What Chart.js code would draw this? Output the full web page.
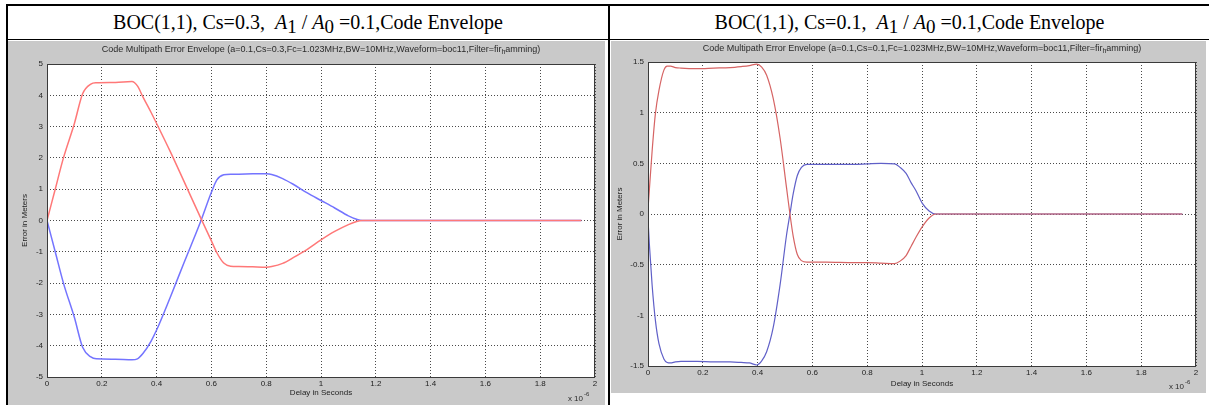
<!DOCTYPE html>
<html><head><meta charset="utf-8">
<script src="https://cdn.jsdelivr.net/npm/chart.js@4.4.1/dist/chart.umd.min.js"></script>
<style>
html,body{margin:0;padding:0;background:#fff;width:1209px;height:405px;overflow:hidden;position:relative;}
.line{position:absolute;background:#000;}
.hdr{position:absolute;top:6px;height:33px;line-height:33px;text-align:center;font-family:"Liberation Serif","Times New Roman",serif;font-size:20px;color:#000;white-space:pre;}
.hdr i{font-style:italic;}
.sub{position:relative;top:4px;font-size:19px;}
canvas{position:absolute;background:#c9c9c9;}
</style></head><body>
<div class="line" style="left:6px;top:4px;width:1203px;height:2px"></div>
<div class="line" style="left:6px;top:39px;width:1203px;height:1px"></div>
<div class="line" style="left:6px;top:4px;width:2px;height:401px"></div>
<div class="line" style="left:608px;top:4px;width:2px;height:401px"></div>
<div class="hdr" style="left:8px;width:600px">BOC(1,1), Cs=0.3,  <i>A</i><span class="sub">1</span> / <i>A</i><span class="sub">0</span> =0.1,Code Envelope</div>
<div class="hdr" style="left:610px;width:599px">BOC(1,1), Cs=0.1,  <i>A</i><span class="sub">1</span> / <i>A</i><span class="sub">0</span> =0.1,Code Envelope</div>
<canvas id="c1" width="597" height="364" style="left:8px;top:41px"></canvas>
<canvas id="c2" width="595" height="352" style="left:611px;top:41px"></canvas>
<script>
// ---------- data ----------
const xTickValues = [0, 0.2, 0.4, 0.6, 0.8, 1, 1.2, 1.4, 1.6, 1.8, 2];
const xTickLabels = ['0', '0.2', '0.4', '0.6', '0.8', '1', '1.2', '1.4', '1.6', '1.8', '2'];
const leftYTickValues = [-5, -4, -3, -2, -1, 0, 1, 2, 3, 4, 5];
const leftYTickLabels = ['-5', '-4', '-3', '-2', '-1', '0', '1', '2', '3', '4', '5'];
const rightYTickValues = [-1.5, -1, -0.5, 0, 0.5, 1, 1.5];
const rightYTickLabels = ['-1.5', '-1', '-0.5', '0', '0.5', '1', '1.5'];

// Cs = 0.3 (delay in microseconds)
const leftDelay = [0, 0.03, 0.06, 0.1, 0.13, 0.16, 0.18, 0.25, 0.31, 0.33, 0.35, 0.38, 0.4, 0.45, 0.5, 0.56, 0.6, 0.62, 0.645, 0.67, 0.7, 0.75, 0.8, 0.82, 0.86, 0.9, 0.95, 1.0, 1.05, 1.1, 1.13, 1.15, 1.2, 1.4, 1.6, 1.8, 1.95];
const leftUpper = [0, 1.0, 2.0, 3.1, 4.05, 4.36, 4.4, 4.41, 4.44, 4.3, 3.95, 3.45, 3.1, 2.2, 1.25, 0.1, -0.65, -1.03, -1.36, -1.46, -1.47, -1.48, -1.49, -1.47, -1.37, -1.18, -0.92, -0.62, -0.35, -0.13, -0.03, 0, 0, 0, 0, 0, 0];
const leftLower = [0, -1.0, -2.0, -3.1, -4.05, -4.36, -4.42, -4.43, -4.45, -4.42, -4.25, -3.85, -3.5, -2.45, -1.35, -0.05, 0.9, 1.3, 1.46, 1.48, 1.48, 1.49, 1.49, 1.47, 1.34, 1.15, 0.88, 0.64, 0.4, 0.15, 0.04, 0, 0, 0, 0, 0, 0];

// Cs = 0.1
const rightDelay = [0, 0.005, 0.015, 0.027, 0.04, 0.058, 0.07, 0.082, 0.1, 0.12, 0.18, 0.24, 0.3, 0.34, 0.37, 0.397, 0.415, 0.433, 0.457, 0.482, 0.506, 0.518, 0.53, 0.545, 0.56, 0.58, 0.65, 0.75, 0.8, 0.85, 0.9, 0.92, 0.942, 0.96, 0.978, 1.0, 1.026, 1.05, 1.2, 1.4, 1.6, 1.8, 1.95];
const rightUpper = [0.05, 0.24, 0.62, 0.99, 1.22, 1.42, 1.46, 1.46, 1.445, 1.44, 1.435, 1.44, 1.445, 1.455, 1.465, 1.48, 1.45, 1.37, 1.14, 0.75, 0.25, 0, -0.22, -0.4, -0.46, -0.475, -0.475, -0.48, -0.48, -0.485, -0.49, -0.465, -0.41, -0.32, -0.23, -0.13, -0.04, 0, 0, 0, 0, 0, 0];
const rightLower = [-0.05, -0.3, -0.7, -1.05, -1.28, -1.43, -1.465, -1.47, -1.46, -1.455, -1.455, -1.46, -1.46, -1.465, -1.47, -1.49, -1.45, -1.36, -1.12, -0.7, -0.2, 0, 0.2, 0.38, 0.46, 0.49, 0.49, 0.49, 0.495, 0.5, 0.495, 0.46, 0.4, 0.31, 0.23, 0.11, 0.03, 0, 0, 0, 0, 0, 0];

const leftTitle = ['Code Multipath Error Envelope (a=0.1,Cs=0.3,Fc=1.023MHz,BW=10MHz,Waveform=boc11,Filter=fir', 'h', 'amming)'];
const rightTitle = ['Code Multipath Error Envelope (a=0.1,Cs=0.1,Fc=1.023MHz,BW=10MHz,Waveform=boc11,Filter=fir', 'h', 'amming)'];

// ---------- drawing ----------
const FONT = '"Liberation Sans", Arial, Helvetica, sans-serif';

const matlabFrame = {
  id: 'matlabFrame',
  beforeDraw(chart) {
    const {ctx, chartArea: a} = chart;
    ctx.save();
    ctx.fillStyle = '#ffffff';
    ctx.fillRect(a.left, a.top, a.right - a.left, a.bottom - a.top);
    ctx.restore();
  },
  afterDraw(chart, args, o) {
    const {ctx, chartArea: a} = chart;
    ctx.save();
    ctx.strokeStyle = '#3a3a3a';
    ctx.lineWidth = 1;
    ctx.strokeRect(Math.round(a.left) + 0.5, Math.round(a.top) + 0.5, Math.round(a.right - a.left) - 1, Math.round(a.bottom - a.top));
    // title with subscript
    const parts = o.title;
    ctx.fillStyle = '#2a2a2a';
    ctx.textBaseline = 'alphabetic';
    ctx.textAlign = 'left';
    const big = '9px ' + FONT, small = '7px ' + FONT;
    ctx.font = big; const w0 = ctx.measureText(parts[0]).width;
    ctx.font = small; const w1 = ctx.measureText(parts[1]).width;
    ctx.font = big; const w2 = ctx.measureText(parts[2]).width;
    let x = (a.left + a.right) / 2 - (w0 + w1 + w2) / 2;
    const y = o.titleY;
    ctx.font = big; ctx.fillText(parts[0], x, y); x += w0;
    ctx.font = small; ctx.fillText(parts[1], x, y + 2); x += w1;
    ctx.font = big; ctx.fillText(parts[2], x, y);
    // exponent label
    ctx.font = '8px ' + FONT;
    ctx.textAlign = 'right';
    ctx.fillText('x 10', a.right - 12, a.bottom + o.expDy);
    ctx.font = '6px ' + FONT;
    ctx.textAlign = 'left';
    ctx.fillText('-6', a.right - 11, a.bottom + o.expDy - 5);
    ctx.restore();
  }
};

function makeChart(id, g) {
  const pts = (xs, ys) => xs.map((d, i) => ({x: d, y: ys[i]}));
  return new Chart(document.getElementById(id), {
    type: 'line',
    data: {
      datasets: [
        {data: pts(g.delay, g.upper), borderColor: g.red, borderWidth: g.lw, pointRadius: 0, cubicInterpolationMode: 'monotone', fill: false},
        {data: pts(g.delay, g.lower), borderColor: g.blue, borderWidth: g.lw, pointRadius: 0, cubicInterpolationMode: 'monotone', fill: false}
      ]
    },
    options: {
      responsive: false, animation: false, devicePixelRatio: 1,
      layout: {padding: {top: g.padTop, right: g.padRight, left: 0, bottom: 0}},
      plugins: {
        legend: {display: false}, tooltip: {enabled: false}, title: {display: false},
        matlabFrame: {title: g.title, titleY: g.titleY, expDy: g.expDy}
      },
      scales: {
        x: {
          type: 'linear', min: 0, max: 2,
          afterBuildTicks: s => { s.ticks = xTickValues.map(v => ({value: v})); },
          afterFit: s => { s.height = g.xH; },
          ticks: {autoSkip: false, maxRotation: 0, padding: g.xTickPad, color: '#1e1e1e', font: {family: FONT, size: 8}, callback: (v, i) => xTickLabels[i]},
          grid: {color: '#4a4a4a', lineWidth: 1, drawTicks: false},
          border: {display: false, dash: [1, 2]},
          title: {display: true, text: 'Delay in Seconds', color: '#1e1e1e', font: {family: FONT, size: 8}, padding: {top: 0, bottom: g.xTitlePad}}
        },
        y: {
          type: 'linear', min: g.yMin, max: g.yMax,
          afterBuildTicks: s => { s.ticks = g.yVals.map(v => ({value: v})); },
          afterFit: s => { s.width = g.yW; },
          ticks: {autoSkip: false, padding: 4, color: '#1e1e1e', font: {family: FONT, size: 8}, callback: (v, i) => g.yLabels[i]},
          grid: {color: '#4a4a4a', lineWidth: 1, drawTicks: false},
          border: {display: false, dash: [1, 2]},
          title: {display: true, text: 'Error in Meters', color: '#1e1e1e', font: {family: FONT, size: 8}, padding: {top: g.yTitlePad, bottom: 0}}
        }
      }
    },
    plugins: [matlabFrame]
  });
}

makeChart('c1', {
  delay: leftDelay, upper: leftUpper, lower: leftLower,
  red: '#ff7878', blue: '#7474ff', lw: 1.5,
  yMin: -5, yMax: 5, yVals: leftYTickValues, yLabels: leftYTickLabels,
  padTop: 23, padRight: 10, yW: 39, xH: 28,
  xTickPad: 2, xTitlePad: 7, yTitlePad: 12, titleY: 11, expDy: 24,
  title: leftTitle
});
makeChart('c2', {
  delay: rightDelay, upper: rightUpper, lower: rightLower,
  red: '#d66464', blue: '#6060c8', lw: 1.2,
  yMin: -1.5, yMax: 1.5, yVals: rightYTickValues, yLabels: rightYTickLabels,
  padTop: 21, padRight: 10, yW: 37, xH: 27,
  xTickPad: 2, xTitlePad: 4, yTitlePad: 4, titleY: 10, expDy: 23,
  title: rightTitle
});
</script>
</body></html>
